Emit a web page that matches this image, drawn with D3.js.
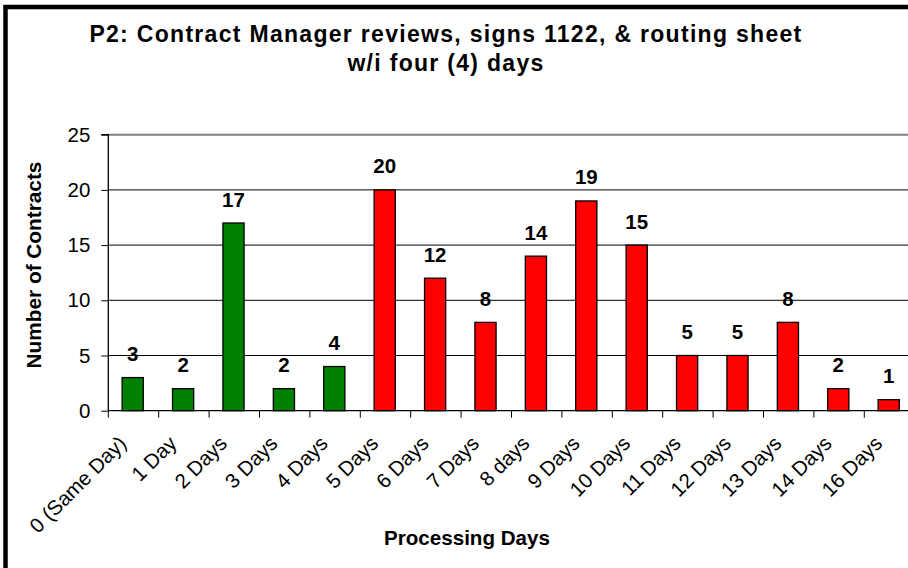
<!DOCTYPE html>
<html>
<head>
<meta charset="utf-8">
<script src="https://cdn.jsdelivr.net/npm/d3@7"></script>
<style>
  html, body { margin: 0; padding: 0; background: #fff; overflow: hidden; }
  svg { display: block; font-family: Arial, "Liberation Sans", sans-serif; }
</style>
</head>
<body>
<svg id="chart" width="908" height="568"></svg>
<script>
const titleLines = ["P2: Contract Manager reviews, signs 1122, & routing sheet", "w/i four (4) days"];
const categories = ["0 (Same Day)", "1 Day", "2 Days", "3 Days", "4 Days", "5 Days", "6 Days", "7 Days", "8 days", "9 Days", "10 Days", "11 Days", "12 Days", "13 Days", "14 Days", "16 Days"];
const values = [3, 2, 17, 2, 4, 20, 12, 8, 14, 19, 15, 5, 5, 8, 2, 1];
const barColors = ["#008000", "#008000", "#008000", "#008000", "#008000", "#FF0000", "#FF0000", "#FF0000", "#FF0000", "#FF0000", "#FF0000", "#FF0000", "#FF0000", "#FF0000", "#FF0000", "#FF0000"];
const yTicks = [0, 5, 10, 15, 20, 25];
const xTitle = "Processing Days";
const yTitle = "Number of Contracts";

(function () {
const svg = d3.select("#chart");
const pLeft = 108.3, pTop = 134.7, pBottom = 410.7, step = 50.4;
const pRight = pLeft + step * categories.length;

// outer chart border (clipped at right/bottom like the reference)
svg.append("rect").attr("x", 5.5).attr("y", 7).attr("width", 1000).attr("height", 1000)
  .attr("fill", "none").attr("stroke", "#000").attr("stroke-width", 4.5);

const x = d3.scaleBand().domain(categories).range([pLeft, pRight]).padding(0);
const y = d3.scaleLinear().domain([0, 25]).range([pBottom, pTop]);

// gridlines
svg.append("g").selectAll("line").data(yTicks.filter(t => t > 0 && t < 25)).join("line")
  .attr("x1", pLeft).attr("x2", pRight).attr("y1", d => y(d)).attr("y2", d => y(d))
  .attr("stroke", "#000").attr("stroke-width", 1);
// plot area top border
svg.append("line").attr("x1", pLeft).attr("x2", pRight).attr("y1", y(25)).attr("y2", y(25))
  .attr("stroke", "#808080").attr("stroke-width", 2);

// bars
const bw = x.bandwidth() * 0.42;
svg.append("g").selectAll("rect").data(values).join("rect")
  .attr("x", (d, i) => x(categories[i]) + x.bandwidth() / 2 - bw / 2 - 0.8)
  .attr("y", d => y(d))
  .attr("width", bw)
  .attr("height", d => y(0) - y(d))
  .attr("fill", (d, i) => barColors[i])
  .attr("stroke", "#000").attr("stroke-width", 1.3);

// data labels
svg.append("g").selectAll("text").data(values).join("text")
  .attr("x", (d, i) => x(categories[i]) + x.bandwidth() / 2 - 0.8)
  .attr("y", d => y(d) - 16.5)
  .attr("text-anchor", "middle")
  .attr("font-size", 20.5).attr("font-weight", "bold").attr("fill", "#000")
  .text(d => d);

// y axis
const yAxis = d3.axisLeft(y).tickValues(yTicks).tickSize(7).tickPadding(11);
const gy = svg.append("g").attr("transform", `translate(${pLeft},0)`).call(yAxis);
gy.select(".domain").attr("stroke", "#000").attr("stroke-width", 1.3).attr("d", `M-7,${pTop}H0V${pBottom}`);
gy.selectAll(".tick line").attr("stroke", "#000");
gy.selectAll(".tick text").attr("font-size", 20.5).attr("fill", "#000").attr("font-family", "Arial, 'Liberation Sans', sans-serif");

// x axis line and ticks
svg.append("line").attr("x1", pLeft).attr("x2", pRight).attr("y1", pBottom).attr("y2", pBottom)
  .attr("stroke", "#000").attr("stroke-width", 1.3);
svg.append("g").selectAll("line").data(categories).join("line")
  .attr("x1", d => x(d)).attr("x2", d => x(d)).attr("y1", pBottom).attr("y2", pBottom + 7)
  .attr("stroke", "#000").attr("stroke-width", 1);

// x tick labels, rotated
svg.append("g").selectAll("text").data(categories).join("text")
  .attr("transform", d => `translate(${x(d) + x.bandwidth() / 2 - 6},${pBottom + 34}) rotate(-45)`)
  .attr("text-anchor", "end")
  .attr("font-size", 20.5).attr("fill", "#000")
  .text(d => d);

// title
svg.append("g").selectAll("text").data(titleLines).join("text")
  .attr("x", 446).attr("y", (d, i) => 42 + i * 29)
  .attr("text-anchor", "middle")
  .attr("font-size", 23).attr("font-weight", "bold").attr("letter-spacing", "1.3px").attr("fill", "#000")
  .text(d => d);

// axis titles
svg.append("text").attr("x", 467).attr("y", 545).attr("text-anchor", "middle")
  .attr("font-size", 20.6).attr("font-weight", "bold").attr("fill", "#000").text(xTitle);
svg.append("text").attr("transform", "translate(41,265) rotate(-90)").attr("text-anchor", "middle")
  .attr("font-size", 20.8).attr("font-weight", "bold").attr("fill", "#000").text(yTitle);
})();
</script>
</body>
</html>
